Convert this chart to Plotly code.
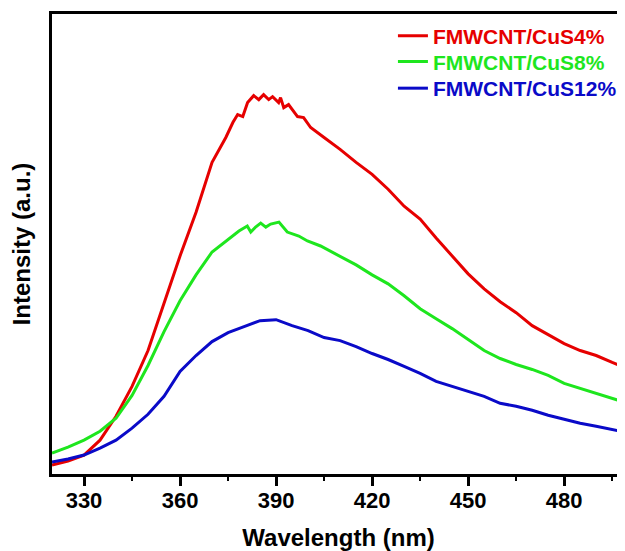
import plotly.graph_objects as go

wl_cus4 = [320, 325, 330, 335, 340, 345, 350, 355, 360, 365, 370, 374.3, 376.5, 378,
           379.6, 381.1, 383, 384.6, 386.1, 387.7, 388.9, 390.8, 391.4, 392.4, 393.9,
           396.7, 398.6, 400.8, 403, 405, 410, 415, 420, 425, 430, 435, 440, 445, 450,
           455, 460, 465, 470, 475, 480, 485, 490, 495, 499]
cus4 = [9, 13, 19, 34, 58, 88, 124, 171, 219, 263, 313, 338, 353, 361,
        359, 373, 380, 376, 381, 376, 379, 373, 378, 368, 371,
        359, 358, 348, 343, 338, 326, 313, 301, 286, 269, 256, 237, 219, 201,
        186, 173, 162, 149, 140, 131, 124, 119, 112, 107]

wl_cus8 = [320, 325, 330, 335, 340, 345, 350, 355, 360, 365, 370, 375, 378.4, 381,
           382.1, 383.6, 385.2, 386.8, 388.3, 390.9, 392, 393.5, 397.1, 399.8, 403.9,
           410, 415, 420, 425, 430, 435, 440, 445, 450, 455, 460, 465, 470, 475, 480,
           485, 490, 495, 499]
cus8 = [21, 27, 34, 43, 56, 79, 109, 143, 174, 200, 223, 236, 244, 249,
        243, 248, 252, 248, 251, 253, 249, 243, 239, 234, 229,
        219, 210, 200, 191, 179, 166, 156, 146, 135, 124, 116, 110, 105, 99, 91,
        86, 81, 76, 72]

wl_cus12 = [320, 325, 330, 335, 340, 345, 350, 355, 360, 365, 370, 375, 380, 385,
            390, 395, 400, 405, 410, 415, 420, 425, 430, 435, 440, 445, 450, 455,
            460, 465, 470, 475, 480, 485, 490, 495, 499]
cus12 = [12, 15, 19, 26, 34, 46, 60, 78, 103, 119, 133, 142, 148, 154,
         155, 149, 144, 137, 134, 128, 121, 115, 108, 101, 93, 88, 83, 78,
         71, 68, 64, 59, 55, 51, 48, 45, 42]

names = ["FMWCNT/CuS4%", "FMWCNT/CuS8%", "FMWCNT/CuS12%"]
colors = ["#e60000", "#1ee61e", "#0a0ac8"]
xs = [wl_cus4, wl_cus8, wl_cus12]
series = [cus4, cus8, cus12]
legend_ids = ["legend", "legend2", "legend3"]
legend_y = [0.952, 0.896, 0.838]

FONT = "Arial, Liberation Sans, sans-serif"

fig = go.Figure()
for nm, col, x, ys, lid in zip(names, colors, xs, series, legend_ids):
    fig.add_trace(go.Scatter(
        x=x, y=ys, mode="lines", line=dict(color=col, width=3),
        name=f"<span style='color:{col}'><b>{nm}</b></span>", legend=lid))

legend_common = dict(x=0.595, xanchor="left", yanchor="middle",
                     bgcolor="rgba(0,0,0,0)", font=dict(size=21, family=FONT),
                     itemwidth=30)

# The page body has an 8px default margin, so the figure is sized to fill the window.
fig.update_layout(
    width=617, height=543,
    margin=dict(l=44, r=0, t=6, b=75),
    plot_bgcolor="white", paper_bgcolor="white",
    font=dict(family=FONT, color="black"),
    showlegend=True,
    legend=dict(y=legend_y[0], **legend_common),
    legend2=dict(y=legend_y[1], **legend_common),
    legend3=dict(y=legend_y[2], **legend_common),
    xaxis=dict(range=[320, 499], showgrid=False, zeroline=False,
               showline=True, linecolor="black", linewidth=3, mirror=True,
               ticks="outside", ticklen=9, tickwidth=3, tickcolor="black",
               tick0=330, dtick=30, ticklabelstandoff=-4,
               tickfont=dict(size=22, family=FONT, weight="bold"),
               minor=dict(ticks="outside", dtick=15, tick0=330, ticklen=4,
                          tickwidth=2, tickcolor="black"),
               title=dict(text="<b>Wavelength (nm)</b>", font=dict(size=24, family=FONT),
                          standoff=21)),
    yaxis=dict(range=[0, 462], showgrid=False, zeroline=False,
               showline=True, linecolor="black", linewidth=3, mirror=False,
               ticks="", showticklabels=False,
               title=dict(text="<b>Intensity (a.u.)</b>", font=dict(size=24, family=FONT),
                          standoff=12)),
)

fig.write_html("out.html")
